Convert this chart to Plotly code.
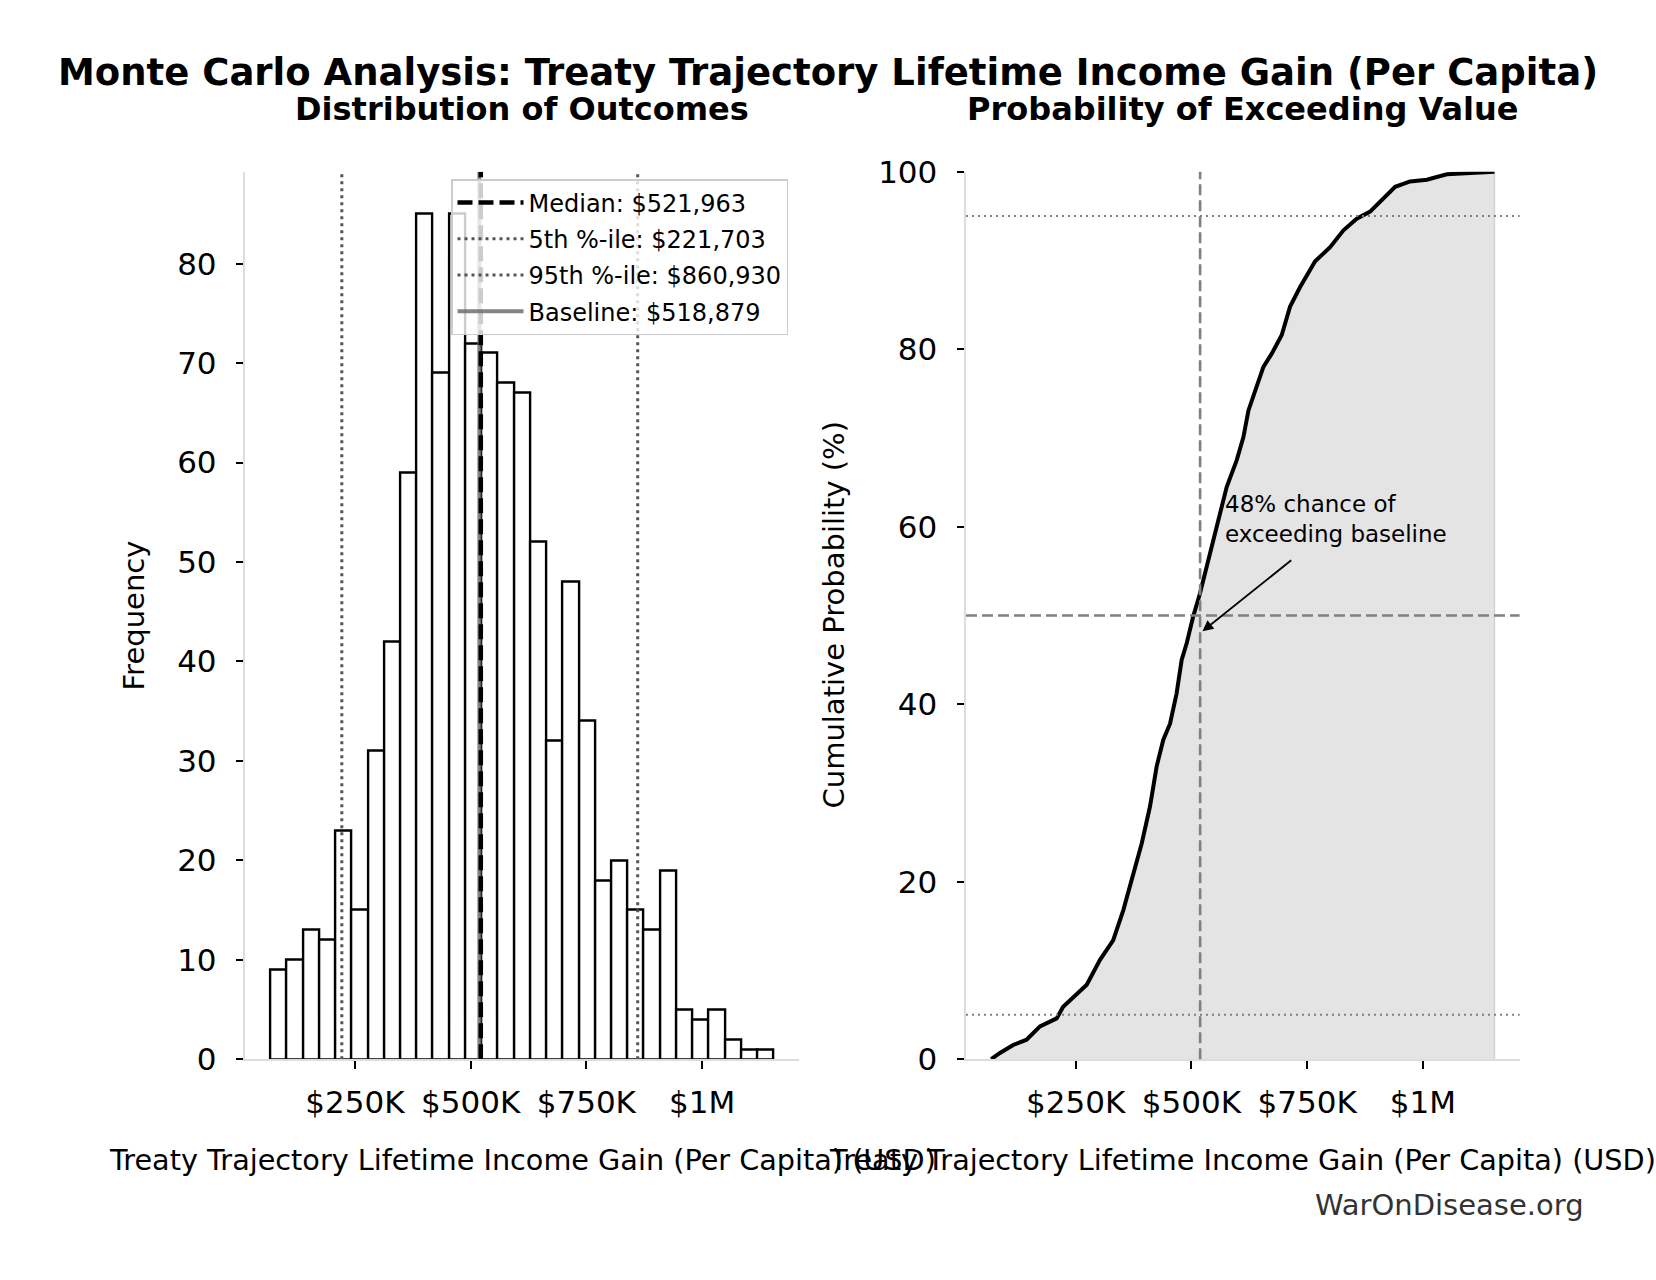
import plotly.graph_objects as go

# ---------------- data ----------------
hist_counts = [9, 10, 13, 12, 23, 15, 31, 42, 59, 85, 69, 85, 72, 71, 68, 67,
               52, 32, 48, 34, 18, 20, 15, 13, 19, 5, 4, 5, 2, 1, 1]
bin_start = 67500
bin_width = 35070

median_val = 521963
p5_val = 221703
p95_val = 860930
baseline_val = 518879

cdf_x = [67500, 86500, 115000, 144000, 173000, 209000, 223000, 245000, 274000,
         302600, 331000, 353000, 374600, 392700, 410700, 425000, 439400, 453900,
         468000, 479000, 490000, 504000, 518700, 533000, 554800, 576400, 598000,
         612400, 623300, 641300, 655600, 673600, 695200, 713200, 734900, 767300,
         799700, 828500, 857300, 886100, 914900, 940200, 972600, 1008600,
         1051900, 1095000, 1154670]
cdf_pct = [0, 0.7, 1.6, 2.2, 3.7, 4.6, 5.9, 7.0, 8.4, 11.2, 13.4, 16.8, 20.9,
           24.3, 28.5, 33.0, 36.0, 37.8, 41.2, 45.0, 46.9, 49.9, 52.5, 55.5,
           60.0, 64.5, 67.5, 70.1, 73.1, 75.8, 78.0, 79.5, 81.6, 84.8, 87.0,
           89.9, 91.5, 93.4, 94.7, 95.5, 97.0, 98.3, 98.9, 99.1, 99.7, 99.8, 100]

x_tick_vals = [250000, 500000, 750000, 1000000]
x_tick_text = ["$250K", "$500K", "$750K", "$1M"]

ref_levels_pct = [5, 50, 95]
annot_prob = 48

# ---------------- derived ----------------
n_bins = len(hist_counts)
bin_centers = [bin_start + (i + 0.5) * bin_width for i in range(n_bins)]
data_min = bin_start
data_max = bin_start + n_bins * bin_width
pad = 0.05 * (data_max - data_min)
x_range = [data_min - pad, data_max + pad]
y1_top = max(hist_counts) * 1.05

W, H = 1656, 1280
FONT = "DejaVu Sans"

def px_x(v):
    return v / W

def px_y(v):
    return 1 - v / H

left_dom = [245.3 / W, 798.8 / W]
right_dom = [966.0 / W, 1519.6 / W]
y_dom = [px_y(1059.2), px_y(171.7)]

fig = go.Figure()

# histogram bars
fig.add_trace(go.Bar(
    x=bin_centers, y=hist_counts, width=bin_width,
    marker=dict(color="white", line=dict(color="black", width=2.4)),
    xaxis="x", yaxis="y", showlegend=False, hoverinfo="skip"))

# reference vertical lines (left)
def vline_trace(val, name, color, width, dash, rank):
    return go.Scatter(x=[val, val], y=[0, y1_top], mode="lines", name=name,
                      line=dict(color=color, width=width, dash=dash),
                      legendgroup=f"g{rank}",
                      xaxis="x", yaxis="y", legendrank=rank, hoverinfo="skip")

fig.add_trace(vline_trace(baseline_val, f"Baseline: ${baseline_val:,}",
                          "rgba(110,110,110,0.85)", 4, "solid", 4))
fig.add_trace(vline_trace(median_val, f"Median: ${median_val:,}",
                          "black", 4.5, "15px,6px", 1))
fig.add_trace(vline_trace(p5_val, f"5th %-ile: ${p5_val:,}",
                          "#555555", 3, "3px,4px", 2))
fig.add_trace(vline_trace(p95_val, f"95th %-ile: ${p95_val:,}",
                          "#555555", 3, "3px,4px", 3))

# CDF fill and line (right)
fig.add_trace(go.Scatter(
    x=cdf_x + [cdf_x[-1]], y=cdf_pct + [0], mode="lines", fill="tozeroy",
    fillcolor="#e4e4e4", line=dict(color="#d2d2d2", width=1.5),
    xaxis="x2", yaxis="y2", showlegend=False, hoverinfo="skip"))
fig.add_trace(go.Scatter(
    x=cdf_x, y=cdf_pct, mode="lines", line=dict(color="black", width=4),
    xaxis="x2", yaxis="y2", showlegend=False, hoverinfo="skip"))

# reference lines (right)
for lvl in ref_levels_pct:
    dashed = (lvl == 50)
    fig.add_shape(type="line", xref="x2 domain", yref="y2", x0=0, x1=1,
                  y0=lvl, y1=lvl,
                  line=dict(color="#808080", width=2.6 if dashed else 2,
                            dash="11px,5px" if dashed else "2px,4px"))
fig.add_shape(type="line", xref="x2", yref="y2 domain", x0=baseline_val,
              x1=baseline_val, y0=0, y1=1,
              line=dict(color="#808080", width=2.6, dash="11px,5px"))

axis_common = dict(
    showgrid=False, zeroline=False, showline=True, linecolor="#dddddd",
    linewidth=2, ticks="outside", ticklen=7.5, tickwidth=2, tickcolor="black",
    tickfont=dict(family=FONT, size=31, color="black"), mirror=False,
    automargin=False)

fig.update_layout(
    width=W, height=H, margin=dict(l=0, r=0, t=0, b=0, autoexpand=False),
    paper_bgcolor="white", plot_bgcolor="white",
    font=dict(family=FONT, color="black"),
    bargap=0,
    xaxis=dict(domain=left_dom, range=x_range, anchor="y",
               tickvals=x_tick_vals, ticktext=x_tick_text,
               ticklabelstandoff=7, **axis_common),
    yaxis=dict(domain=y_dom, range=[0, y1_top], anchor="x", dtick=10,
               tick0=0, ticklabelstandoff=13, **axis_common),
    xaxis2=dict(domain=right_dom, range=x_range, anchor="y2",
                tickvals=x_tick_vals, ticktext=x_tick_text,
                ticklabelstandoff=7, **axis_common),
    yaxis2=dict(domain=y_dom, range=[0, 100], anchor="x2", dtick=20,
                tick0=0, ticklabelstandoff=13, **axis_common),
    legend=dict(x=px_x(788), y=px_y(179), xanchor="right", yanchor="top",
                bgcolor="rgba(255,255,255,0.8)", bordercolor="#cccccc",
                borderwidth=1.5, font=dict(family=FONT, size=24, color="black"),
                traceorder="grouped", tracegroupgap=2, itemwidth=66),
)

ann = []
ann.append(dict(text="<b>Monte Carlo Analysis: Treaty Trajectory Lifetime Income Gain (Per Capita)</b>",
                x=0.5, y=px_y(73), xref="paper", yref="paper", showarrow=False,
                font=dict(size=37, family=FONT), xanchor="center", yanchor="middle"))
ann.append(dict(text="<b>Distribution of Outcomes</b>",
                x=(left_dom[0] + left_dom[1]) / 2, y=px_y(109), xref="paper", yref="paper",
                showarrow=False, font=dict(size=32, family=FONT), xanchor="center", yanchor="middle"))
ann.append(dict(text="<b>Probability of Exceeding Value</b>",
                x=(right_dom[0] + right_dom[1]) / 2, y=px_y(109), xref="paper", yref="paper",
                showarrow=False, font=dict(size=32, family=FONT), xanchor="center", yanchor="middle"))
xlabel = "Treaty Trajectory Lifetime Income Gain (Per Capita) (USD)"
for dom in (left_dom, right_dom):
    ann.append(dict(text=xlabel, x=(dom[0] + dom[1]) / 2, y=px_y(1160),
                    xref="paper", yref="paper", showarrow=False,
                    font=dict(size=28.7, family=FONT), xanchor="center", yanchor="middle"))
ann.append(dict(text="Frequency", x=px_x(134), y=(y_dom[0] + y_dom[1]) / 2,
                xref="paper", yref="paper", showarrow=False, textangle=-90,
                font=dict(size=29, family=FONT), xanchor="center", yanchor="middle"))
ann.append(dict(text="Cumulative Probability (%)", x=px_x(834), y=(y_dom[0] + y_dom[1]) / 2,
                xref="paper", yref="paper", showarrow=False, textangle=-90,
                font=dict(size=29, family=FONT), xanchor="center", yanchor="middle"))
ann.append(dict(text="WarOnDisease.org", x=px_x(1586), y=px_y(1205),
                xref="paper", yref="paper", showarrow=False,
                font=dict(size=29, family=FONT, color="#333333"),
                xanchor="right", yanchor="middle"))
# annotation text and arrow on CDF
ann.append(dict(text=f"{annot_prob}% chance of<br>exceeding baseline",
                x=568000, y=64.2, xref="x2", yref="y2", showarrow=False,
                align="left", xanchor="left", yanchor="top",
                font=dict(size=23, family=FONT, color="black")))
ann.append(dict(text=" ", x=baseline_val, y=annot_prob, xref="x2", yref="y2",
                ax=720000, ay=56.4, axref="x2", ayref="y2", showarrow=True,
                arrowhead=2, arrowsize=1.2, arrowwidth=1.8, arrowcolor="black",
                standoff=3, font=dict(size=2)))
fig.update_layout(annotations=ann)

fig.write_html("out.html")
